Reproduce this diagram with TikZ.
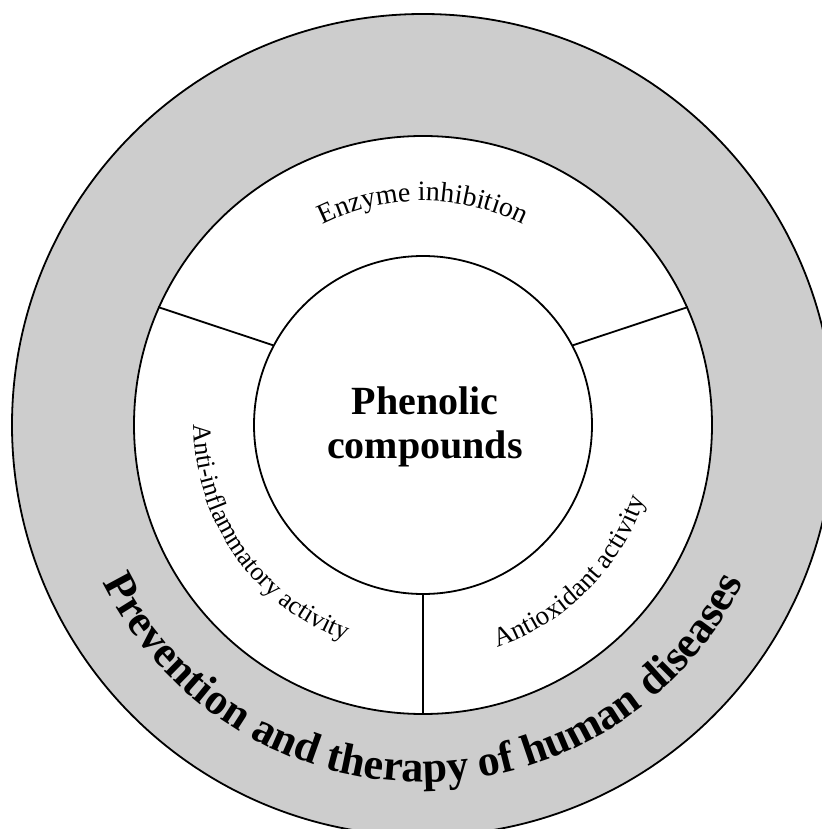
\documentclass[tikz,border=0pt]{standalone}
\usepackage{fontspec}
\setmainfont{Liberation Serif}
\usetikzlibrary{decorations.text}

\begin{document}
\begin{tikzpicture}[x=1pt, y=1pt, line width=1.8pt,
  ring/.style={circle, draw=black, inner sep=0pt, minimum size=#1},
  bent/.style={decorate, decoration={text along path, text align=center, text={#1}}}]
  \definecolor{ringgray}{RGB}{205,205,205}

  \useasboundingbox (-423,-404) rectangle (398,425);
  \fill[white] (-423,-404) rectangle (398,425);

  \node[ring=822pt, fill=ringgray] (outer) at (0,0) {};
  \node[ring=578pt, fill=white] (band) at (0,0) {};
  \node[ring=338pt, fill=white] (core) at (0,0) {};
  \node[font=\bfseries\fontsize{40}{44}\selectfont, align=center] (phenol) at (2,-2) {Phenolic\\compounds};

  % sector borders
  \draw (core.152) -- (band.156);
  \draw (core.28) -- (band.24);
  \draw (core.south) -- (band.south);

  \path[bent={|\fontsize{28}{28}\selectfont|Enzyme inhibition}]
    (150:224) arc[start angle=150, end angle=30, radius=224];
  \path[bent={|\fontsize{26}{26}\selectfont|Anti-inflammatory activity}]
    (160:229) arc[start angle=160, end angle=270, radius=229];
  \path[bent={|\fontsize{27}{27}\selectfont|Antioxidant activity}]
    (270:234) arc[start angle=270, end angle=360, radius=234];
  \path[bent={|\bfseries\fontsize{44}{44}\selectfont|Prevention and therapy of human diseases}]
    (195:357) arc[start angle=195, end angle=345, radius=357];

\end{tikzpicture}
\end{document}
